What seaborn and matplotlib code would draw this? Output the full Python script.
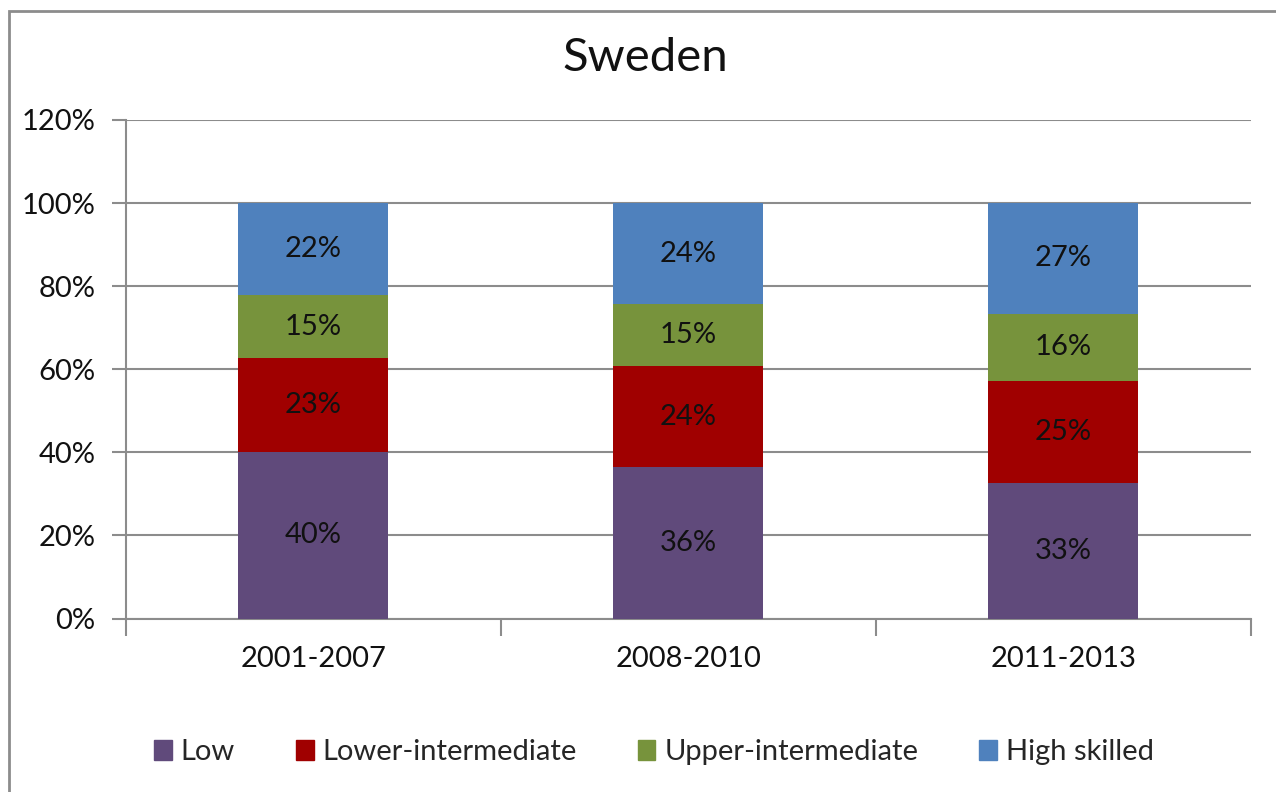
import numpy as np
import pandas as pd
import seaborn as sns
import matplotlib.pyplot as plt
from matplotlib.patches import Patch, Rectangle

### data (shares in %)
periods = ["2001-2007", "2008-2010", "2011-2013"]
skills = ["Low", "Lower-intermediate", "Upper-intermediate", "High skilled"]
low = [40.0, 36.4, 32.6]
lower_int = [22.6, 24.3, 24.6]
upper_int = [15.2, 14.9, 16.2]
high = [22.2, 24.4, 26.6]
colors = ["#604A7B", "#A00000", "#77933C", "#4F81BD"]
yticks = [0, 20, 40, 60, 80, 100, 120]

sns.set_theme(style="white")
plt.rcParams['font.family'] = ['Lato', 'DejaVu Sans']

df = pd.DataFrame({"period": periods, "Low": low, "Lower-intermediate": lower_int,
                   "Upper-intermediate": upper_int, "High skilled": high})
cum = df[skills].cumsum(axis=1)

fig = plt.figure(figsize=(12.76, 7.92), dpi=100)
ax = fig.add_axes([0.0987, 0.219, 0.8815, 0.6295])

# stacked bars: draw the tallest cumulative first, then overlay the shorter ones
for skill, col in reversed(list(zip(skills, colors))):
    sns.barplot(x=df["period"], y=cum[skill], color=col, width=0.4,
                saturation=1, linewidth=0, ax=ax, zorder=3)

# segment labels
for i in range(len(periods)):
    for skill in skills:
        v = df.loc[i, skill]
        ax.text(i, cum.loc[i, skill] - v / 2, "{:.0f}%".format(v),
                ha="center", va="center", fontsize=21, color="#111111", zorder=4)

ax.set_ylim(0, 120)
ax.set_xlim(-0.5, 2.5)
ax.set_yticks(yticks)
ax.set_yticklabels(["{}%".format(t) for t in yticks], fontsize=21)
ax.yaxis.grid(True, color="#8c8c8c", linewidth=1.5)
ax.set_axisbelow(True)
ax.set_xlabel("")
ax.set_ylabel("")

for s in ["top", "right"]:
    ax.spines[s].set_visible(False)
for s in ["left", "bottom"]:
    ax.spines[s].set_color("#8c8c8c")
    ax.spines[s].set_linewidth(1.5)

ax.tick_params(axis="y", left=True, length=10, width=1.5, color="#8c8c8c",
               pad=12, labelcolor="#111111")
ax.set_xticks([0, 1, 2])
ax.set_xticklabels(periods, fontsize=21, color="#111111")
ax.set_xticks([-0.5, 0.5, 1.5, 2.5], minor=True)
ax.tick_params(axis="x", which="major", bottom=False, pad=14)
ax.tick_params(axis="x", which="minor", bottom=True, length=12, width=1.5, color="#8c8c8c")

fig.text(0.506, 0.927, "Sweden", ha="center", va="center", fontsize=34, color="#111111")

handles = [Patch(facecolor=c, edgecolor=c) for c in colors]
fig.legend(handles, skills, loc="center", bbox_to_anchor=(0.5125, 0.05), ncol=4,
           frameon=False, fontsize=21, handlelength=0.6, handleheight=0.65,
           handletextpad=0.3, columnspacing=2.1)

# chart area border (only top and left visible in the crop)
fig.patches.append(Rectangle((9 / 1276, -0.1), 1.2, 1.1 - 11 / 792, transform=fig.transFigure,
                             fill=False, edgecolor="#8c8c8c", linewidth=2))

plt.savefig("out.png", dpi=100)
